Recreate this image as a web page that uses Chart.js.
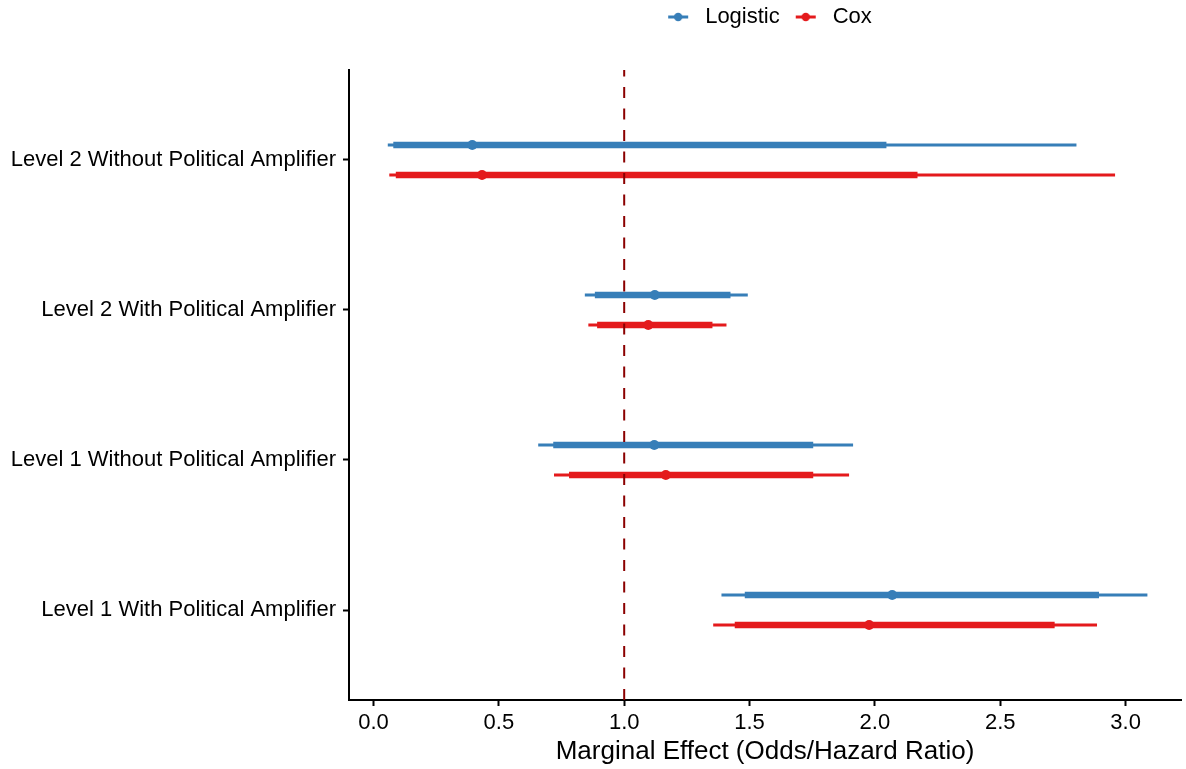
<!DOCTYPE html>
<html>
<head>
<meta charset="utf-8">
<script src="https://cdn.jsdelivr.net/npm/chart.js@4.4.1/dist/chart.umd.min.js"></script>
<style>
  html, body { margin: 0; padding: 0; background: #ffffff; }
  #wrap { width: 1186px; height: 769px; }
</style>
</head>
<body>
<div id="wrap"><canvas id="c" width="1186" height="769"></canvas></div>
<script>
// ---- Data (categories listed bottom to top) ----
const categories = [
  'Level 1 With Political Amplifier',
  'Level 1 Without Political Amplifier',
  'Level 2 With Political Amplifier',
  'Level 2 Without Political Amplifier'
];
const seriesNames = ['Logistic', 'Cox'];

const logisticEstimate = [2.069, 1.120, 1.122, 0.394];
const logisticLow80    = [1.481, 0.717, 0.883, 0.079];
const logisticHigh80   = [2.894, 1.754, 1.424, 2.046];
const logisticLow95    = [1.388, 0.657, 0.843, 0.057];
const logisticHigh95   = [3.087, 1.913, 1.493, 2.804];

const coxEstimate = [1.977, 1.166, 1.096, 0.433];
const coxLow80    = [1.441, 0.780, 0.892, 0.089];
const coxHigh80   = [2.717, 1.754, 1.352, 2.170];
const coxLow95    = [1.355, 0.720, 0.857, 0.063];
const coxHigh95   = [2.886, 1.897, 1.408, 2.958];

const xTickValues = [0, 0.5, 1.0, 1.5, 2.0, 2.5, 3.0];
const referenceValue = 1;

// ---- Styles ----
const colors = { Logistic: '#377EB8', Cox: '#E41A1C' };
const offsets = { Logistic: 0.1, Cox: -0.1 };
const FONT = "'Liberation Sans', Arial, Helvetica, sans-serif";
Chart.defaults.font.family = FONT;
Chart.defaults.color = '#000000';

const series = {
  Logistic: { est: logisticEstimate, l80: logisticLow80, h80: logisticHigh80, l95: logisticLow95, h95: logisticHigh95 },
  Cox:      { est: coxEstimate,      l80: coxLow80,      h80: coxHigh80,      l95: coxLow95,      h95: coxHigh95 }
};

function legendIcon(color) {
  const cv = document.createElement('canvas');
  cv.width = 36; cv.height = 12;
  const g = cv.getContext('2d');
  g.strokeStyle = color; g.lineWidth = 3;
  g.beginPath(); g.moveTo(10, 6); g.lineTo(30, 6); g.stroke();
  g.fillStyle = color;
  g.beginPath(); g.arc(20, 6, 4.2, 0, Math.PI * 2); g.fill();
  return cv;
}

const datasets = [];
// reference dashed line (drawn on top)
datasets.push({
  type: 'scatter', showLine: true, order: -1,
  data: [{ x: referenceValue, y: 0.4 }, { x: referenceValue, y: 4.6 }],
  borderColor: '#8B0000', borderWidth: 2, borderDash: [11, 10.5],
  pointRadius: 0, borderCapStyle: 'butt'
});
seriesNames.forEach(name => {
  const s = series[name];
  const c = colors[name];
  // estimate points
  datasets.push({
    type: 'scatter', order: 0, label: name,
    data: categories.map((cat, i) => ({ x: s.est[i], y: i + 1 + offsets[name] })),
    backgroundColor: c, borderWidth: 0, pointRadius: 5, pointHoverRadius: 5
  });
  categories.forEach((cat, i) => {
    const y = i + 1 + offsets[name];
    // 80% interval (thick)
    datasets.push({
      type: 'scatter', showLine: true, order: 1,
      data: [{ x: s.l80[i], y: y }, { x: s.h80[i], y: y }],
      borderColor: c, borderWidth: 6.5, pointRadius: 0, borderCapStyle: 'butt'
    });
    // 95% interval (thin)
    datasets.push({
      type: 'scatter', showLine: true, order: 2,
      data: [{ x: s.l95[i], y: y }, { x: s.h95[i], y: y }],
      borderColor: c, borderWidth: 3, pointRadius: 0, borderCapStyle: 'butt'
    });
  });
});

new Chart(document.getElementById('c'), {
  type: 'scatter',
  data: { datasets },
  options: {
    responsive: false,
    animation: false,
    events: [],
    layout: { padding: { left: 0, right: 1, top: 0, bottom: 0 } },
    plugins: {
      tooltip: { enabled: false },
      title: { display: false },
      legend: {
        display: true,
        position: 'top',
        fullSize: false,
        onClick: null,
        labels: {
          usePointStyle: true,
          pointStyleWidth: 36,
          padding: 6,
          font: { size: 22, family: FONT },
          color: '#000000',
          generateLabels: () => seriesNames.map(n => ({
            text: n,
            pointStyle: legendIcon(colors[n]),
            fillStyle: colors[n],
            strokeStyle: colors[n],
            lineWidth: 0,
            hidden: false,
            fontColor: '#000000'
          }))
        }
      }
    },
    scales: {
      x: {
        type: 'linear',
        position: 'bottom',
        min: -0.0977,
        max: 3.221,
        afterBuildTicks: s => { s.ticks = xTickValues.map(v => ({ value: v })); },
        afterFit: s => { s.height = 69; s.paddingLeft = 0; s.paddingRight = 0; },
        grid: { display: true, drawOnChartArea: false, drawTicks: true, tickLength: 6, tickWidth: 2, tickColor: '#000000' },
        border: { display: true, color: '#000000', width: 2 },
        ticks: {
          autoSkip: false, maxRotation: 0, padding: 4,
          font: { size: 22, family: FONT }, color: '#000000',
          callback: v => Number(v).toFixed(1)
        },
        title: {
          display: true,
          text: 'Marginal Effect (Odds/Hazard Ratio)',
          font: { size: 26, family: FONT },
          color: '#000000',
          padding: { top: 0, bottom: 2 }
        }
      },
      xTop: {
        type: 'linear',
        position: 'top',
        min: 0, max: 1,
        display: true,
        afterBuildTicks: s => { s.ticks = [{ value: 0.5 }]; },
        afterFit: s => { s.height = 32; s.paddingLeft = 0; s.paddingRight = 0; },
        grid: { display: false },
        border: { display: false },
        ticks: { display: false }
      },
      y: {
        type: 'linear',
        position: 'left',
        min: 0.4,
        max: 4.6,
        afterBuildTicks: s => { s.ticks = categories.map((c, i) => ({ value: i + 1 })); },
        afterFit: s => { s.width = 349; s.paddingTop = 0; s.paddingBottom = 0; },
        grid: { display: true, drawOnChartArea: false, drawTicks: true, tickLength: 6, tickWidth: 2, tickColor: '#000000' },
        border: { display: true, color: '#000000', width: 2 },
        ticks: {
          autoSkip: false, padding: 7,
          font: { size: 22, family: FONT }, color: '#000000',
          callback: v => categories[Math.round(v) - 1]
        }
      }
    }
  }
});
</script>
</body>
</html>
